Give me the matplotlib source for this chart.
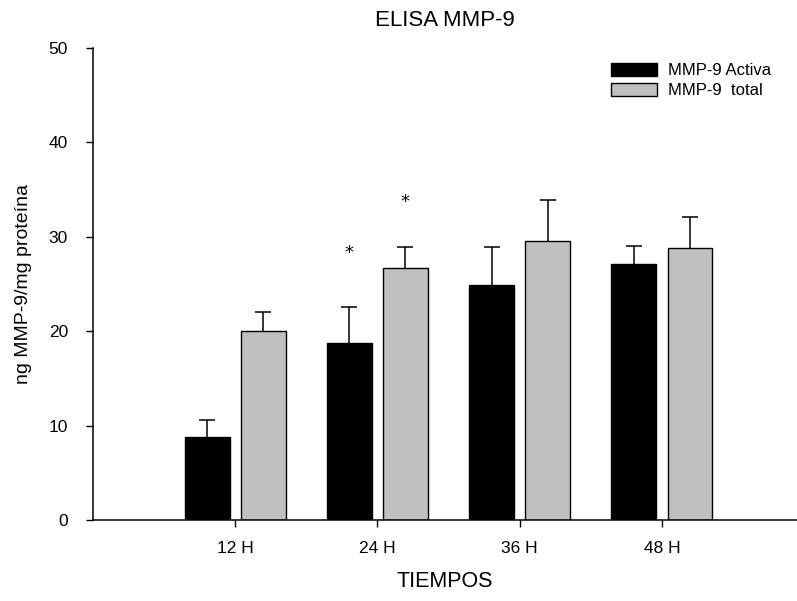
import matplotlib
matplotlib.use("Agg")
import matplotlib.pyplot as plt
import numpy as np

plt.rcParams['font.family'] = ['Liberation Sans', 'DejaVu Sans']

categories = ["12 H", "24 H", "36 H", "48 H"]
activa = [8.8, 18.7, 24.9, 27.1]
activa_err = [1.8, 3.9, 4.0, 1.9]
total = [20.0, 26.7, 29.6, 28.8]
total_err = [2.0, 2.2, 4.3, 3.3]
star_idx = [1, 1]
star_series = ["activa", "total"]
star_y = [28.3, 33.7]

fig = plt.figure(figsize=(7.97, 6.01), dpi=100)
ax = fig.add_axes([93/797, 81/601, 1 - 93/797, (520-48)/601])

x = np.arange(1, len(categories) + 1)
off = 0.197
w = 0.315
ax.bar(x - off, activa, w, color='black', edgecolor='black', linewidth=1.0,
       label='MMP-9 Activa', zorder=2)
ax.bar(x + off, total, w, color='#c0c0c0', edgecolor='black', linewidth=1.0,
       label='MMP-9  total', zorder=2)
for xs, vals, errs in [(x - off, activa, activa_err), (x + off, total, total_err)]:
    _, caps, _ = ax.errorbar(xs, vals, yerr=[np.zeros(len(vals)), errs], fmt='none',
                             ecolor='black', elinewidth=1.1, capsize=5.8, capthick=1.1,
                             zorder=1)
    caps[0].set_visible(False)

for i, s, yv in zip(star_idx, star_series, star_y):
    xs = x[i] - off if s == "activa" else x[i] + off
    ax.text(xs, yv, '*', ha='center', va='center', fontsize=13, family='DejaVu Sans')

ax.set_xlim(0, 4.95)
ax.set_ylim(0, 50)
ax.set_yticks([0, 10, 20, 30, 40, 50])
ax.set_xticks(x)
ax.set_xticklabels(categories)
ax.spines['top'].set_visible(False)
ax.spines['right'].set_visible(False)
for sp in ['left', 'bottom']:
    ax.spines[sp].set_linewidth(1.1)
ax.tick_params(axis='both', direction='out', length=5, width=1, labelsize=12.5)
ax.tick_params(axis='x', pad=10)
ax.tick_params(axis='y', pad=13)

ax.set_title('ELISA MMP-9', fontsize=16, pad=16)
ax.set_xlabel('TIEMPOS', fontsize=15.5, labelpad=11)
ax.set_ylabel('ng MMP-9/mg proteína', fontsize=14, labelpad=12)

ax.legend(loc='upper right', bbox_to_anchor=(0.985, 1.0), frameon=False, fontsize=12,
          handlelength=2.75, handleheight=0.8, handletextpad=0.66, labelspacing=0.3)

fig.savefig('out.png', dpi=100)
